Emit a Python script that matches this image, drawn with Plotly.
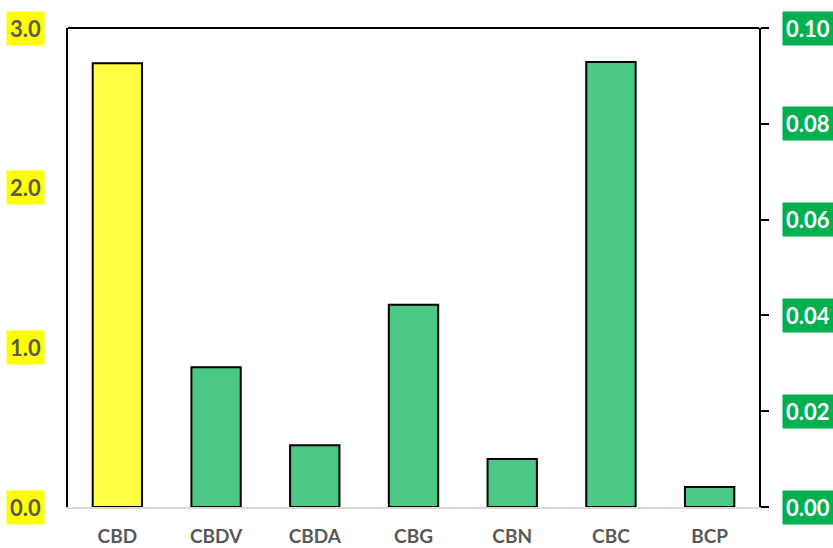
import plotly.graph_objects as go

categories = ["CBD", "CBDV", "CBDA", "CBG", "CBN", "CBC", "BCP"]
left_values = [2.78]                                   # CBD, left axis
right_cats = ["CBDV", "CBDA", "CBG", "CBN", "CBC", "BCP"]
right_values = [0.0292, 0.0129, 0.0422, 0.0100, 0.0929, 0.0042]
left_ticks = [0.0, 1.0, 2.0, 3.0]
left_tick_text = ["0.0", "1.0", "2.0", "3.0"]
right_ticks = [0.00, 0.02, 0.04, 0.06, 0.08, 0.10]
right_tick_text = ["0.00", "0.02", "0.04", "0.06", "0.08", "0.10"]

FONT = "Lato"
GRAY = "#595959"

fig = go.Figure()
fig.add_trace(go.Bar(x=categories[:1], y=left_values, yaxis="y", width=0.5,
                     marker=dict(color="#FFFF44", line=dict(color="black", width=2))))
fig.add_trace(go.Bar(x=right_cats, y=right_values, yaxis="y2", width=0.5,
                     marker=dict(color="#4BC884", line=dict(color="black", width=2))))

annotations = []
for v, t in zip(left_ticks, left_tick_text):
    annotations.append(dict(x=0, xref="paper", y=v, yref="y", text=t, showarrow=False,
                            xanchor="right", xshift=-23, yanchor="middle",
                            font=dict(family=FONT, size=22, color=GRAY, weight="bold"),
                            bgcolor="#FFFF00", borderpad=3))
for v, t in zip(right_ticks, right_tick_text):
    annotations.append(dict(x=1, xref="paper", y=v, yref="y2", text=t, showarrow=False,
                            xanchor="left", xshift=23, yanchor="middle",
                            font=dict(family=FONT, size=22, color="white", weight="bold"),
                            bgcolor="#00B050", borderpad=3))

fig.update_layout(
    width=833, height=548,
    margin=dict(l=68, r=74, t=28, b=41),
    paper_bgcolor="white", plot_bgcolor="white",
    showlegend=False, barmode="overlay",
    xaxis=dict(categoryorder="array", categoryarray=categories,
               showline=True, linecolor="#D9D9D9", linewidth=2,
               ticks="", showgrid=False, ticklabelstandoff=11, automargin=False,
               tickfont=dict(family=FONT, size=19, color=GRAY, weight="bold")),
    yaxis=dict(range=[0, 3.0], tickvals=left_ticks, showticklabels=False,
               showline=True, linecolor="black", linewidth=2, ticks="",
               showgrid=False, zeroline=False, automargin=False),
    yaxis2=dict(range=[0, 0.10], tickvals=right_ticks, showticklabels=False,
                overlaying="y", side="right", automargin=False,
                showline=True, linecolor="black", linewidth=2,
                ticks="outside", ticklen=8, tickwidth=2, tickcolor="black",
                showgrid=False, zeroline=False),
    shapes=[dict(type="line", xref="paper", yref="paper", x0=0, x1=1, y0=1, y1=1,
                 line=dict(color="black", width=2))],
    annotations=annotations,
)

fig.write_html("out.html", config={"displayModeBar": False},
               post_script="document.body.style.margin='0';document.body.style.overflow='hidden';")
